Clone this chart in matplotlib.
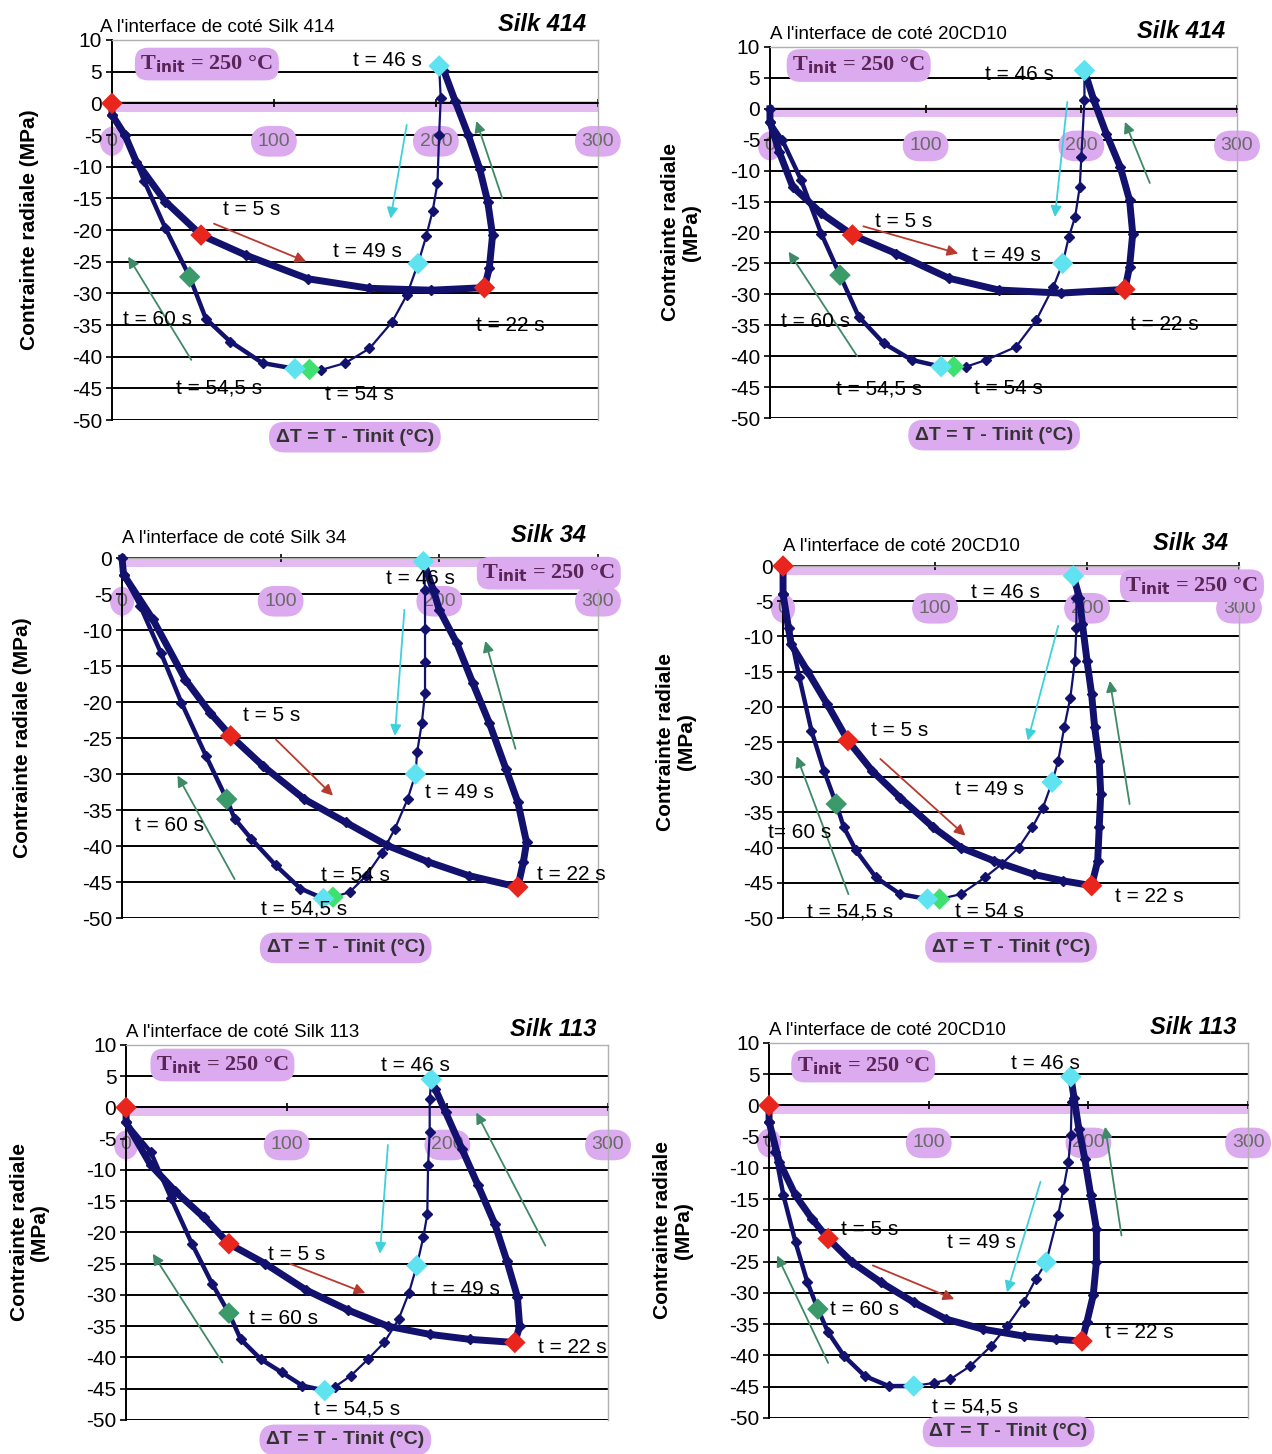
import matplotlib
matplotlib.use('agg')
import matplotlib.pyplot as plt

plt.rcParams['font.family'] = ['Liberation Sans', 'DejaVu Sans']
plt.rcParams['axes.unicode_minus'] = False

# ---- data: dT = T - Tinit (degC), radial stress (MPa) ----
# "up" = heating 0 -> 22 s then 22 -> 46 s ; "down" = 46 s -> 49 -> 54,5 -> 60 s -> end
a_up_dt = [0, 0, 8, 15, 33, 55, 83, 121, 159, 197, 230, 233, 235, 232, 227, 220, 212, 205, 202]
a_up_s = [0, -1.8, -5, -9.2, -15.5, -20.8, -24, -27.7, -29.2, -29.5, -29.1, -26, -20.8, -15.5, -10.3, -5, 0.3, 5.1, 5.9]
a_down_dt = [202, 203, 202, 201, 198, 194, 189, 182, 173, 159, 144, 129, 122, 113, 93, 73, 58, 48, 33, 20, 8, 0]
a_down_s = [5.9, 0.8, -5, -12.6, -17, -21, -25.3, -30.3, -34.5, -38.7, -41, -42.1, -42, -41.9, -41, -37.6, -34, -27.4, -19.7, -12.3, -5, -1.8]
a_key_t = [0, 5, 22, 46, 49, 54, 54.5, 60]
a_key_dt = [0, 55, 230, 202, 189, 122, 113, 48]
a_key_s = [0, -20.8, -29.1, 5.9, -25.3, -42, -41.9, -27.4]

b_up_dt = [0, 0, 6, 14.6, 33, 53, 81, 115, 147, 187, 228, 231, 233, 231, 225, 216, 208, 202]
b_up_s = [0, -2.1, -7, -12.6, -16.9, -20.4, -23.4, -27.4, -29.3, -29.8, -29.2, -25.5, -20.2, -14.8, -9.4, -4, 1.4, 6.2]
b_down_dt = [202, 202, 200, 199, 196, 192, 188, 182, 171, 158, 139, 126, 118, 110, 91, 73, 57, 45, 33, 20, 8, 0]
b_down_s = [6.2, 1.4, -7.8, -12.6, -17.5, -20.7, -25, -28.8, -34.2, -38.5, -40.6, -41.7, -41.7, -41.7, -40.6, -37.9, -33.6, -26.9, -20.2, -11.5, -5.1, -2.1]
b_key_t = [5, 22, 46, 49, 54, 54.5, 60]
b_key_dt = [53, 228, 202, 188, 118, 110, 45]
b_key_s = [-20.4, -29.2, 6.2, -25, -41.7, -41.7, -26.9]

c_up_dt = [0, 1, 19.4, 40, 55.6, 68.5, 89, 115, 141, 167, 193, 218.5, 249.5, 253, 255, 249.5, 242, 231.5, 221, 211, 200, 196.5, 190]
c_up_s = [0, -2.3, -8.5, -16.9, -21.5, -24.7, -28.9, -33.5, -36.7, -39.9, -42.2, -44.1, -45.7, -42.2, -39.5, -33.9, -29.3, -22.9, -17.3, -11.8, -7.2, -4.6, -0.5]
c_down_dt = [190, 191, 191, 191, 191, 189, 186, 185, 180, 172, 164, 154, 143.5, 133, 127, 112.5, 97, 81.5, 71, 66, 53, 37.5, 24.6, 11.6, 1]
c_down_s = [-0.5, -4.4, -9.9, -14.5, -18.7, -22.9, -27, -30, -33.5, -37.6, -40.9, -44.1, -46.4, -47.1, -47.3, -45.9, -42.7, -39, -36.2, -33.5, -27.5, -20.1, -13.2, -6.7, -2.3]
c_key_t = [5, 22, 46, 49, 54, 54.5, 60]
c_key_dt = [68.5, 249.5, 190, 185, 133, 127, 66]
c_key_s = [-24.7, -45.7, -0.5, -30, -47.1, -47.3, -33.5]

d_up_dt = [0, 0, 5.3, 16, 29, 42.7, 58.7, 77, 98.7, 117, 139, 165, 184, 203, 207, 208, 209, 208, 205, 203, 200, 197, 195, 191]
d_up_s = [0, -4, -11.1, -14.9, -19.6, -24.8, -29.1, -32.9, -37.1, -40, -41.9, -43.8, -44.7, -45.4, -41.9, -37.1, -32.4, -27.7, -22.9, -18.2, -13.5, -8.3, -4.5, -1.4]
d_down_dt = [191, 193, 193, 192, 189, 185, 181, 177, 171, 164, 155, 144, 133, 117, 103, 95, 77, 61, 48, 40, 35, 27, 18.7, 10.7, 4, 0]
d_down_s = [-1.4, -4.5, -8.8, -13.5, -18.7, -22.9, -27.7, -30.7, -34.3, -37.1, -40, -42.3, -44.2, -46.6, -47.3, -47.3, -46.6, -44.2, -40.4, -37.1, -33.8, -29.1, -23.4, -15.8, -8.8, -4]
d_key_t = [0, 5, 22, 46, 49, 54, 54.5, 60]
d_key_dt = [0, 42.7, 203, 191, 177, 103, 95, 35]
d_key_s = [0, -24.8, -45.4, -1.4, -30.7, -47.3, -47.3, -33.8]

e_up_dt = [0, 0, 15.3, 30.6, 48.5, 64, 86.7, 112, 138, 163, 189, 214, 242, 245, 243.6, 237, 229.6, 219, 209, 199, 192.6, 190]
e_up_s = [0, -2.4, -9.2, -13.4, -17.6, -21.8, -25, -29.2, -32.4, -35, -36.3, -37.1, -37.6, -35, -30.3, -24.5, -18.7, -12.4, -6.6, -0.8, 2.9, 4.5]
e_down_dt = [190, 189, 189, 188, 187.5, 185, 181, 176, 169.6, 160.7, 150.5, 140, 130, 123.7, 109.7, 97, 84, 71.4, 64, 53.6, 41, 28, 15.3, 0]
e_down_s = [4.5, 1.3, -4, -9.2, -17.1, -20.8, -25.3, -29.7, -33.9, -37.6, -40.3, -42.9, -44.7, -45.3, -44.5, -42.4, -40.3, -37.1, -32.9, -28.2, -21.8, -14.5, -7.1, -2.4]
e_key_t = [0, 5, 22, 46, 49, 54.5, 60]
e_key_dt = [0, 64, 242, 190, 181, 123.7, 64]
e_key_s = [0, -21.8, -37.6, 4.5, -25.3, -45.3, -32.9]

f_up_dt = [0, 0, 6.4, 16.6, 26.8, 37, 52, 70, 90.6, 111, 134, 159.4, 180, 196, 199, 203, 205, 205, 201.5, 197.7, 194, 191, 189]
f_up_s = [0, -2.6, -9, -14.4, -18.1, -21.3, -25.1, -28.3, -31.5, -34.2, -35.8, -36.9, -37.4, -37.7, -34.7, -30.4, -25.1, -19.7, -14.4, -8.5, -3.7, 1.2, 4.6]
f_down_dt = [189, 189.5, 189, 187.5, 184.4, 181, 173.5, 167, 159.4, 149, 139, 126, 113.5, 103, 90.6, 75, 60, 47, 37, 30.6, 24, 16.6, 9, 3.8, 0]
f_down_s = [4.6, 0.6, -4.7, -9, -13.3, -17.6, -25.1, -27.8, -31.5, -35.3, -38.5, -41.7, -43.8, -44.4, -44.9, -44.9, -43.3, -40.1, -36.3, -32.6, -28.3, -21.9, -14.4, -7.4, -2.6]
f_key_t = [0, 5, 22, 46, 49, 54.5, 60]
f_key_dt = [0, 37, 196, 189, 173.5, 90.6, 30.6]
f_key_s = [0, -21.3, -37.7, 4.6, -25.1, -44.9, -32.6]

xticks = [0, 100, 200, 300]
titles = ["A l'interface de coté Silk 414", "A l'interface de coté 20CD10",
          "A l'interface de coté Silk 34", "A l'interface de coté 20CD10",
          "A l'interface de coté Silk 113", "A l'interface de coté 20CD10"]
grades = ['Silk 414', 'Silk 414', 'Silk 34', 'Silk 34', 'Silk 113', 'Silk 113']
ymax = [10, 10, 0, 0, 10, 10]

# ---- layout / annotations ----
NAVY = '#12126e'
PURPLE = '#dcaaee'
key_col = {0: '#e8261e', 5: '#e8261e', 22: '#e8261e', 46: '#5fe3f0', 49: '#5fe3f0',
           54: '#3fe070', 54.5: '#5fe3f0', 60: '#3a9a6a'}
arrow_col = {'r': '#b83a2e', 'c': '#3fd0dc', 'g': '#3f8a66'}

rects = [[0.088, 0.7111, 0.382, 0.2614], [0.6053, 0.7125, 0.3672, 0.2552],
         [0.0959, 0.3686, 0.3742, 0.2476], [0.6156, 0.3686, 0.3585, 0.2421],
         [0.0991, 0.0234, 0.3789, 0.2579], [0.6046, 0.0248, 0.3766, 0.2579]]
ylab_two = [False, True, False, True, True, True]
ylab_x = [-0.17, -0.19, -0.21, -0.235, -0.2, -0.2]
xlab_pos = [(0.5, -0.045), (0.48, -0.046), (0.47, -0.083), (0.5, -0.083), (0.455, -0.053), (0.5, -0.037)]
tinit_pos = [(58.6, 6.2), (57, 7), (269, -2.1), (269, -2.8), (60, 6.8), (59, 6.3)]
labels = [
    [('t = 46 s', 170, 6.8), ('t = 5 s', 86, -16.7), ('t = 49 s', 158, -23.4), ('t = 22 s', 246, -35),
     ('t = 60 s', 28, -34.2), ('t = 54,5 s', 66, -44.9), ('t = 54 s', 153, -45.9)],
    [('t = 46 s', 160, 5.6), ('t = 5 s', 86, -18.3), ('t = 49 s', 152, -23.7), ('t = 22 s', 253, -34.8),
     ('t = 60 s', 29, -34.4), ('t = 54,5 s', 70, -45.3), ('t = 54 s', 153, -45.2)],
    [('t = 46 s', 188, -2.9), ('t = 5 s', 94, -21.9), ('t = 49 s', 213, -32.5), ('t = 22 s', 283, -43.9),
     ('t = 60 s', 30, -37.1), ('t = 54,5 s', 115, -48.8), ('t = 54 s', 147, -44.1)],
    [('t = 46 s', 146, -3.8), ('t = 5 s', 77, -23.4), ('t = 49 s', 136, -31.8), ('t = 22 s', 241, -47),
     ('t= 60 s', 11, -37.8), ('t = 54,5 s', 44, -49.1), ('t = 54 s', 136, -49.1)],
    [('t = 46 s', 180, 6.7), ('t = 5 s', 106, -23.5), ('t = 49 s', 211, -29.2), ('t = 22 s', 278, -38.4),
     ('t = 60 s', 98, -33.8), ('t = 54,5 s', 144, -48.3)],
    [('t = 46 s', 173, 6.7), ('t = 5 s', 63, -19.9), ('t = 49 s', 133, -22), ('t = 22 s', 232, -36.4),
     ('t = 60 s', 60, -32.6), ('t = 54,5 s', 129, -48.3)],
]
arrows = [
    [('r', (63, -19), (120, -25)), ('c', (182, -3.4), (172, -18.2)), ('g', (241, -15), (225, -2.8)), ('g', (49, -40.5), (10, -24.2))],
    [('r', (60, -19), (121, -23.4)), ('c', (191, 1.1), (183, -17.5)), ('g', (244, -12), (228, -2.1)), ('g', (56, -40), (12, -23.1))],
    [('r', (97, -25.2), (133, -33)), ('c', (178, -7.2), (172, -24.7)), ('g', (248, -26.5), (229, -11.5)), ('g', (71, -44.6), (35, -30.2))],
    [('r', (64, -27.4), (120, -38.3)), ('c', (181, -8.5), (161, -24.8)), ('g', (228, -33.8), (215, -16.3)), ('g', (43, -46.6), (9, -27))],
    [('r', (102, -25), (149, -29.7)), ('c', (163, -6), (158, -23.4)), ('g', (261, -22.1), (218, -0.8)), ('g', (60, -40.8), (16.6, -23.4))],
    [('r', (65, -25.6), (116, -31)), ('c', (170, -12.2), (149, -29.9)), ('g', (220.7, -20.8), (210.5, -3.4)), ('g', (37, -41.2), (5, -24))],
]

series = [
    (a_up_dt, a_up_s, a_down_dt, a_down_s, a_key_t, a_key_dt, a_key_s),
    (b_up_dt, b_up_s, b_down_dt, b_down_s, b_key_t, b_key_dt, b_key_s),
    (c_up_dt, c_up_s, c_down_dt, c_down_s, c_key_t, c_key_dt, c_key_s),
    (d_up_dt, d_up_s, d_down_dt, d_down_s, d_key_t, d_key_dt, d_key_s),
    (e_up_dt, e_up_s, e_down_dt, e_down_s, e_key_t, e_key_dt, e_key_s),
    (f_up_dt, f_up_s, f_down_dt, f_down_s, f_key_t, f_key_dt, f_key_s),
]

fig = plt.figure(figsize=(12.72, 14.54), dpi=100)

for i, (up_x, up_y, dn_x, dn_y, kt, kx, ky) in enumerate(series):
    ax = fig.add_axes(rects[i])
    top = ymax[i]
    ax.set_xlim(0, 300)
    ax.set_ylim(-50, top)
    yt = list(range(-50, top + 1, 5))
    ax.set_yticks(yt)
    ax.tick_params(axis='y', labelsize=15, length=4, width=1.2, pad=3)
    # black gridlines, except on the top edge (grey frame there)
    for yv in yt[:-1]:
        ax.axhline(yv, color='black', lw=1.4, zorder=1)

    # x axis sits on the zero line, labels are put lower with a highlight
    ax.spines['bottom'].set_position(('data', 0))
    ax.spines['bottom'].set_linewidth(1.2)
    ax.spines['left'].set_linewidth(1.4)
    for side in ['top', 'right']:
        ax.spines[side].set_color('#b0b0b0')
        ax.spines[side].set_linewidth(1.0)
    ax.set_xticks(xticks)
    ax.set_xticklabels([])
    ax.tick_params(axis='x', direction='inout', length=6, width=1.2)
    for xv in xticks:
        ax.text(xv, -6, str(xv), ha='center', va='center', fontsize=14, color='#6a6a6a',
                bbox=dict(boxstyle='round,pad=0.35,rounding_size=0.9', fc=PURPLE, ec='none'), zorder=1.5)
    ax.axhspan(-1.3, 0.3 if top > 0 else 0, color=PURPLE, alpha=0.8, zorder=0.5, lw=0)

    # split the cooling path at t = 54,5 s: the return branch is drawn denser
    k = dn_x.index(kx[kt.index(54.5)])
    ax.plot(up_x, up_y, color=NAVY, lw=5, marker='D', ms=5, zorder=3, clip_on=False)
    ax.plot(dn_x[:k + 1], dn_y[:k + 1], color=NAVY, lw=1.6, marker='D', ms=5, zorder=3, clip_on=False)
    ax.plot(dn_x[k:], dn_y[k:], color=NAVY, lw=3.2, marker='D', ms=5, zorder=3, clip_on=False)
    ax.scatter(kx, ky, marker='D', s=120, c=[key_col[t] for t in kt], edgecolors='none',
               zorder=5, clip_on=False)

    for col, tail, head in arrows[i]:
        ax.annotate('', xy=head, xytext=tail,
                    arrowprops=dict(arrowstyle='-|>', color=arrow_col[col], lw=1.3,
                                    mutation_scale=16, shrinkA=0, shrinkB=0), zorder=4)
    for txt, x, y in labels[i]:
        ax.text(x, y, txt, fontsize=15, ha='center', va='center', zorder=6)

    tx, ty = tinit_pos[i]
    ax.text(tx, ty, r'T$_{\mathbf{init}}$ = 250 °C', family='Liberation Serif', fontweight='bold',
            fontsize=16, color='#5a2456', ha='center', va='center', zorder=6,
            bbox=dict(boxstyle='round,pad=0.25,rounding_size=0.6', fc=PURPLE, ec='none'))

    ty_title = 1.01 if top > 0 else 1.03
    ax.text(0.0 if i != 0 else -0.025, ty_title, titles[i], transform=ax.transAxes,
            fontsize=13.5, ha='left', va='bottom')
    ax.text(0.975, ty_title, grades[i], transform=ax.transAxes, fontsize=17,
            fontweight='bold', style='italic', ha='right', va='bottom')

    ylab = 'Contrainte radiale\n(MPa)' if ylab_two[i] else 'Contrainte radiale (MPa)'
    ax.text(ylab_x[i], 0.5, ylab, transform=ax.transAxes, rotation=90, fontsize=15,
            fontweight='bold', ha='center', va='center', linespacing=1.1)

    lx, ly = xlab_pos[i]
    ax.text(lx, ly, 'ΔT = T - Tinit (°C)', transform=ax.transAxes, fontsize=14,
            fontweight='bold', color='#333333', ha='center', va='center',
            bbox=dict(boxstyle='round,pad=0.35,rounding_size=0.8', fc=PURPLE, ec='none'))

fig.savefig('out.png', dpi=100, facecolor='white')
